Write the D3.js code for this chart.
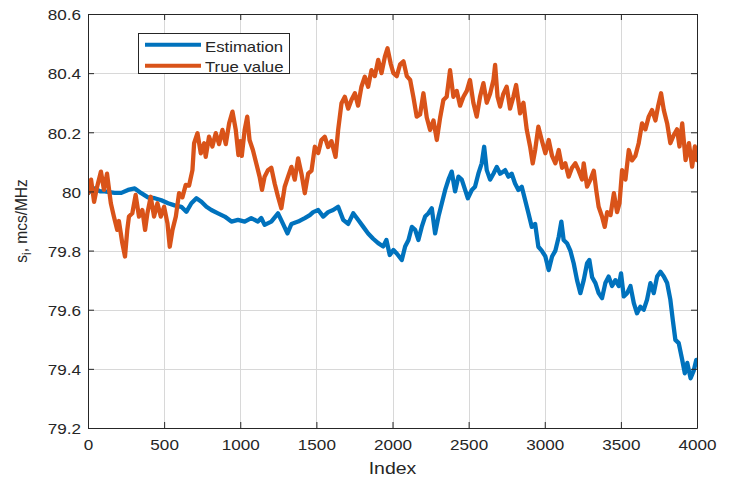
<!DOCTYPE html>
<html><head><meta charset="utf-8">
<script src="https://cdn.jsdelivr.net/npm/d3@7"></script>
<style>
html,body{margin:0;padding:0;background:#fff;}
text{font-family:"Liberation Sans",Arial,Helvetica,sans-serif;fill:#262626;}
</style></head>
<body><svg id="c" width="731" height="478"></svg>
<script>
// ---- data ----
const xTicks = [0,500,1000,1500,2000,2500,3000,3500,4000];
const yTicks = [79.2,79.4,79.6,79.8,80.0,80.2,80.4,80.6];
const seriesNames = ["Estimation","True value"];

const estIdx = [0,20,44,80,110,140,175,219,263,307,350,394,438,482,526,569,613,646,679,712,745,778,810,854,898,942,985,1029,1072,1116,1138,1160,1204,1248,1281,1310,1336,1380,1424,1457,1479,1512,1545,1577,1610,1643,1676,1709,1742,1774,1807,1840,1873,1906,1939,1960,1982,2006,2028,2061,2083,2105,2127,2149,2170,2192,2214,2236,2258,2280,2302,2324,2346,2367,2389,2411,2433,2455,2477,2495,2521,2542,2564,2586,2602,2619,2641,2663,2685,2707,2740,2761,2783,2805,2827,2849,2871,2893,2915,2937,2958,2980,3004,3026,3048,3070,3092,3109,3124,3146,3168,3190,3212,3234,3256,3278,3293,3311,3333,3354,3376,3398,3420,3442,3464,3486,3501,3519,3541,3563,3585,3606,3628,3650,3672,3694,3716,3738,3760,3782,3804,3825,3841,3858,3880,3903,3920,3936,3958,3979,3995,4000];
const estVal = [79.994,80.005,80.01,80.0,80.0,79.998,79.995,79.995,80.005,80.01,79.994,79.98,79.977,79.97,79.96,79.953,79.948,79.931,79.96,79.977,79.965,79.948,79.937,79.926,79.915,79.898,79.904,79.898,79.91,79.898,79.91,79.887,79.898,79.926,79.89,79.858,79.89,79.898,79.91,79.92,79.93,79.937,79.915,79.93,79.937,79.948,79.904,79.89,79.926,79.904,79.881,79.858,79.84,79.825,79.814,79.836,79.785,79.802,79.79,79.768,79.814,79.836,79.88,79.87,79.836,79.88,79.915,79.926,79.943,79.858,79.915,79.96,80.005,80.039,80.067,80.0,80.05,80.04,80.005,79.977,80.005,80.016,80.06,80.095,80.151,80.072,80.04,80.06,80.083,80.06,80.072,80.05,80.06,80.027,80.005,80.016,79.971,79.926,79.88,79.89,79.813,79.80,79.78,79.734,79.78,79.80,79.847,79.898,79.836,79.825,79.80,79.757,79.70,79.656,79.70,79.757,79.768,79.71,79.69,79.656,79.639,79.69,79.712,79.68,79.70,79.68,79.723,79.645,79.656,79.68,79.622,79.588,79.61,79.60,79.634,79.69,79.656,79.712,79.728,79.712,79.69,79.634,79.565,79.498,79.487,79.43,79.385,79.42,79.368,79.395,79.43,79.43];

const trueIdx = [0,20,40,60,85,105,125,150,170,192,203,225,243,258,269,291,313,335,357,375,390,412,434,456,478,500,522,537,555,577,598,620,642,664,686,697,719,741,763,773,795,817,839,861,883,905,927,949,970,988,1000,1010,1029,1046,1061,1083,1105,1127,1143,1160,1182,1204,1226,1248,1270,1292,1314,1336,1358,1380,1402,1424,1446,1468,1490,1512,1533,1555,1577,1599,1626,1643,1665,1687,1709,1731,1753,1774,1796,1818,1840,1862,1884,1906,1928,1950,1967,1989,2006,2028,2050,2072,2094,2116,2137,2159,2181,2203,2225,2247,2269,2291,2313,2334,2356,2378,2400,2422,2444,2466,2488,2509,2531,2553,2575,2597,2619,2641,2663,2674,2690,2707,2728,2750,2772,2794,2812,2838,2860,2882,2904,2921,2937,2958,2980,3004,3026,3048,3070,3092,3114,3135,3157,3179,3201,3223,3245,3256,3278,3300,3322,3338,3354,3376,3394,3410,3432,3454,3475,3491,3508,3530,3552,3573,3595,3617,3639,3661,3683,3705,3727,3744,3764,3782,3804,3825,3847,3869,3885,3903,3925,3947,3968,3986,4000];
const trueVal = [79.994,80.04,79.965,80.016,80.067,80.005,80.06,79.96,79.915,79.87,79.90,79.826,79.78,79.87,79.915,79.926,79.988,79.915,79.937,79.87,79.926,79.982,79.915,79.96,79.915,79.948,79.892,79.813,79.87,79.915,79.994,79.98,80.022,80.02,80.072,80.163,80.197,80.129,80.163,80.117,80.185,80.152,80.197,80.16,80.208,80.16,80.23,80.27,80.21,80.123,80.17,80.12,80.208,80.253,80.174,80.14,80.095,80.05,80.005,80.05,80.072,80.08,80.027,79.982,79.943,80.016,80.05,80.083,80.04,80.112,80.06,79.994,80.06,80.07,80.151,80.13,80.174,80.185,80.15,80.17,80.117,80.208,80.298,80.32,80.28,80.31,80.332,80.29,80.354,80.388,80.354,80.41,80.39,80.445,80.40,80.456,80.484,80.43,80.40,80.39,80.43,80.44,80.39,80.377,80.32,80.253,80.26,80.332,80.25,80.208,80.24,80.174,80.25,80.309,80.32,80.41,80.32,80.34,80.29,80.32,80.34,80.377,80.30,80.253,80.32,80.366,80.30,80.33,80.377,80.428,80.32,80.287,80.33,80.354,80.28,80.32,80.36,80.264,80.30,80.208,80.151,80.095,80.14,80.219,80.174,80.129,80.174,80.12,80.095,80.14,80.08,80.095,80.05,80.08,80.095,80.07,80.04,80.095,80.016,80.04,80.07,80.005,79.948,79.915,79.88,79.93,79.92,79.994,79.93,79.96,80.072,80.04,80.14,80.105,80.12,80.163,80.23,80.21,80.253,80.275,80.24,80.287,80.332,80.275,80.23,80.163,80.19,80.21,80.152,80.23,80.106,80.163,80.084,80.152,80.106];

// ---- chart ----
const colors = ["#0072BD","#D95319"];
const L=88,R=697,T=14,B=428, SX=1.18;
const svg = d3.select("#c");
const x = d3.scaleLinear().domain([0,4000]).range([L,R]);
const y = d3.scaleLinear().domain([79.2,80.6]).range([B,T]);

// grid
const g = svg.append("g").attr("stroke","#d8d8d8").attr("stroke-width",1);
g.selectAll(".gx").data(xTicks).join("line")
  .attr("x1",d=>Math.round(x(d))+0.5).attr("x2",d=>Math.round(x(d))+0.5).attr("y1",T).attr("y2",B);
g.selectAll(".gy").data(yTicks).join("line")
  .attr("y1",d=>Math.round(y(d))+0.5).attr("y2",d=>Math.round(y(d))+0.5).attr("x1",L).attr("x2",R);

// lines
const mk = (idx,val)=>idx.map((d,i)=>[d,val[i]]);
const lineGen = d3.line().x(d=>x(d[0])).y(d=>y(d[1]));
const data = [mk(estIdx,estVal), mk(trueIdx,trueVal)];
svg.append("clipPath").attr("id","cp").append("rect").attr("x",L).attr("y",T).attr("width",R-L).attr("height",B-T);
svg.append("g").attr("clip-path","url(#cp)").selectAll("path").data(data).join("path")
  .attr("d",lineGen).attr("fill","none").attr("stroke",(d,i)=>colors[i])
  .attr("stroke-width",4.3).attr("stroke-linejoin","round").attr("stroke-linecap","round");

// axes
const fmtY = d=>String(+d.toFixed(1));
const axB = svg.append("g").attr("transform",`translate(0,${B})`)
  .call(d3.axisBottom(x).tickValues(xTicks).tickFormat(d3.format("d")).tickSize(-6).tickSizeOuter(0).tickPadding(12));
const axL = svg.append("g").attr("transform",`translate(${L},0)`)
  .call(d3.axisLeft(y).tickValues(yTicks).tickFormat(fmtY).tickSize(-6).tickSizeOuter(0).tickPadding(6));
const axT = svg.append("g").attr("transform",`translate(0,${T})`)
  .call(d3.axisTop(x).tickValues(xTicks).tickFormat("").tickSize(-6).tickSizeOuter(0));
const axR = svg.append("g").attr("transform",`translate(${R},0)`)
  .call(d3.axisRight(y).tickValues(yTicks).tickFormat("").tickSize(-6).tickSizeOuter(0));
[axB,axL,axT,axR].forEach(a=>{
  a.selectAll("path,line").attr("stroke","#262626").attr("stroke-width",1);
  a.selectAll("text").attr("font-size",14.5).attr("fill","#262626")
   .attr("font-family","Liberation Sans, Arial, sans-serif");
});
axB.selectAll("text").attr("transform",`scale(${SX},1)`);
axL.selectAll("text").attr("transform",`scale(${SX},1)`).attr("dy","0.4em");

// axis labels
svg.append("text").attr("transform",`translate(${(L+R)/2},474) scale(${SX},1)`)
  .attr("text-anchor","middle").attr("font-size",16.5).text("Index");
const yl = svg.append("text").attr("transform",`translate(27,${(T+B)/2}) scale(1.1,1) rotate(-90)`)
  .attr("text-anchor","middle").attr("font-size",15.5);
yl.append("tspan").text("s");
yl.append("tspan").attr("dy",4).attr("font-size",12).text("i");
yl.append("tspan").attr("dy",-4).text(", mcs/MHz");

// legend
const lg = svg.append("g");
lg.append("rect").attr("x",138.5).attr("y",33.5).attr("width",151).attr("height",40)
  .attr("fill","#fff").attr("stroke","#262626").attr("stroke-width",1);
seriesNames.forEach((n,i)=>{
  const yy = 44.7 + i*21;
  lg.append("line").attr("x1",145).attr("x2",201).attr("y1",yy).attr("y2",yy)
    .attr("stroke",colors[i]).attr("stroke-width",4);
  lg.append("text").attr("transform",`translate(205,${52+i*19.5}) scale(${SX},1)`)
    .attr("font-size",14.2).text(n);
});
</script></body></html>
